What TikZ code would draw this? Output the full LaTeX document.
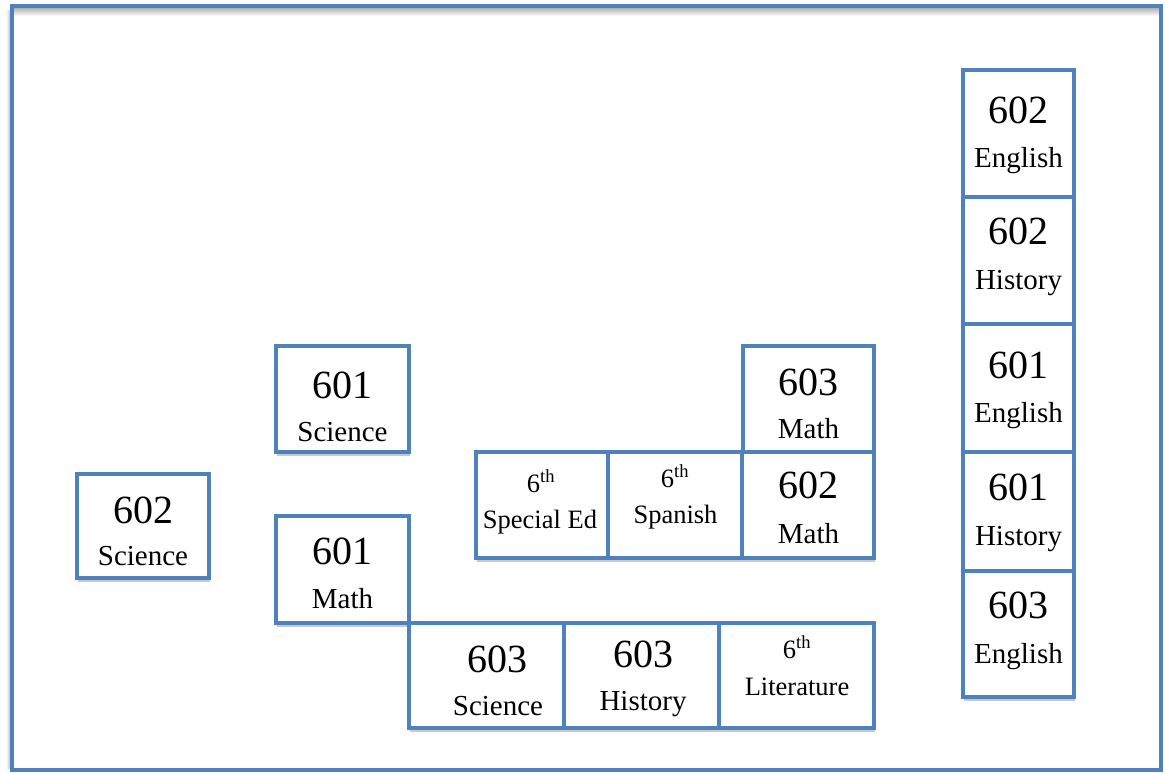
\documentclass[tikz,border=0pt]{standalone}
\usepackage{fontspec}
\setmainfont{Liberation Serif}
\usetikzlibrary{shadows}
\definecolor{roomblue}{HTML}{4F81BD}
\tikzset{
  room/.style={draw=roomblue, line width=4pt, fill=white, inner sep=0pt,
    drop shadow={shadow xshift=1pt, shadow yshift=-3.5pt, opacity=0.3, fill=black!70}},
  num/.style={anchor=base, inner sep=0pt, font=\fontsize{40}{40}\selectfont},
  subj/.style={anchor=base, inner sep=0pt, font=\fontsize{29}{29}\selectfont},
  small/.style={anchor=base, inner sep=0pt, font=\fontsize{26.5}{26.5}\selectfont},
}
% room box from its left, top, right and bottom edges
\newcommand\roombox[5]{%
  \node[room, minimum width={(#4-#2)*1pt}, minimum height={(#5-#3)*1pt}]
    (#1) at ({(#2+#4)/2},{(#3+#5)/2}) {};}
\begin{document}
\begin{tikzpicture}[x=1pt, y=-1pt]
\useasboundingbox (0,0) rectangle (1165,772);
\fill[white] (0,0) rectangle (1165,772);
% soft shade along the outer wall
\shade[top color=black!30, bottom color=white] (12,8) rectangle (1159,16);
\shade[left color=white, right color=black!30] (6,10) rectangle (11,768);
\draw[roomblue, line width=4pt] (12,6) rectangle (1161,770);

% rooms, upper ones first so lower rooms cover their shadows
\roombox{eng602}{963}{70}{1074}{197}
\roombox{hist602}{963}{197}{1074}{324}
\roombox{eng601}{963}{324}{1074}{452}
\roombox{hist601}{963}{452}{1074}{571}
\roombox{eng603}{963}{571}{1074}{697}
\roombox{sci601}{276}{346}{409}{452}
\roombox{math603}{743}{346}{874}{452}
\roombox{sped}{476}{452}{608}{558}
\roombox{span}{608}{452}{742}{558}
\roombox{math602}{742}{452}{874}{558}
\roombox{sci602}{77}{474}{209}{578}
\roombox{math601}{276}{516}{409}{623}
\roombox{sci603}{409}{623}{564}{728}
\roombox{hist603}{564}{623}{719}{728}
\roombox{lit}{719}{623}{874}{728}

% labels
\node[num]  (sci602n) at (143,523) {602};
\node[subj] (sci602s) at (143,565) {Science};
\node[num]  (sci601n) at (342.5,398) {601};
\node[subj] (sci601s) at (342.5,441) {Science};
\node[num]  (math601n) at (342.5,564) {601};
\node[subj] (math601s) at (342.5,608) {Math};
\node[num]  (math603n) at (808.5,395) {603};
\node[subj] (math603s) at (808.5,438) {Math};
\node[num]  (math602n) at (808.5,498) {602};
\node[subj] (math602s) at (808.5,543) {Math};
\node[small] (spedn) at (541,492) {6\textsuperscript{th}};
\node[small] (speds) at (540,528) {Special Ed};
\node[small] (spann) at (675,487) {6\textsuperscript{th}};
\node[small] (spans) at (675.5,523) {Spanish};
\node[num]  (sci603n) at (497,672) {603};
\node[subj] (sci603s) at (498,715) {Science};
\node[num]  (hist603n) at (643,667) {603};
\node[subj] (hist603s) at (643,710) {History};
\node[small] (litn) at (797,658) {6\textsuperscript{th}};
\node[small] (lits) at (797,695) {Literature};
\node[num]  (eng602n) at (1018.5,123) {602};
\node[subj] (eng602s) at (1018.5,167) {English};
\node[num]  (hist602n) at (1018.5,244) {602};
\node[subj] (hist602s) at (1018.5,289) {History};
\node[num]  (eng601n) at (1018.5,378) {601};
\node[subj] (eng601s) at (1018.5,422) {English};
\node[num]  (hist601n) at (1018.5,500) {601};
\node[subj] (hist601s) at (1018.5,545) {History};
\node[num]  (eng603n) at (1018.5,618) {603};
\node[subj] (eng603s) at (1018.5,663) {English};
\end{tikzpicture}
\end{document}
